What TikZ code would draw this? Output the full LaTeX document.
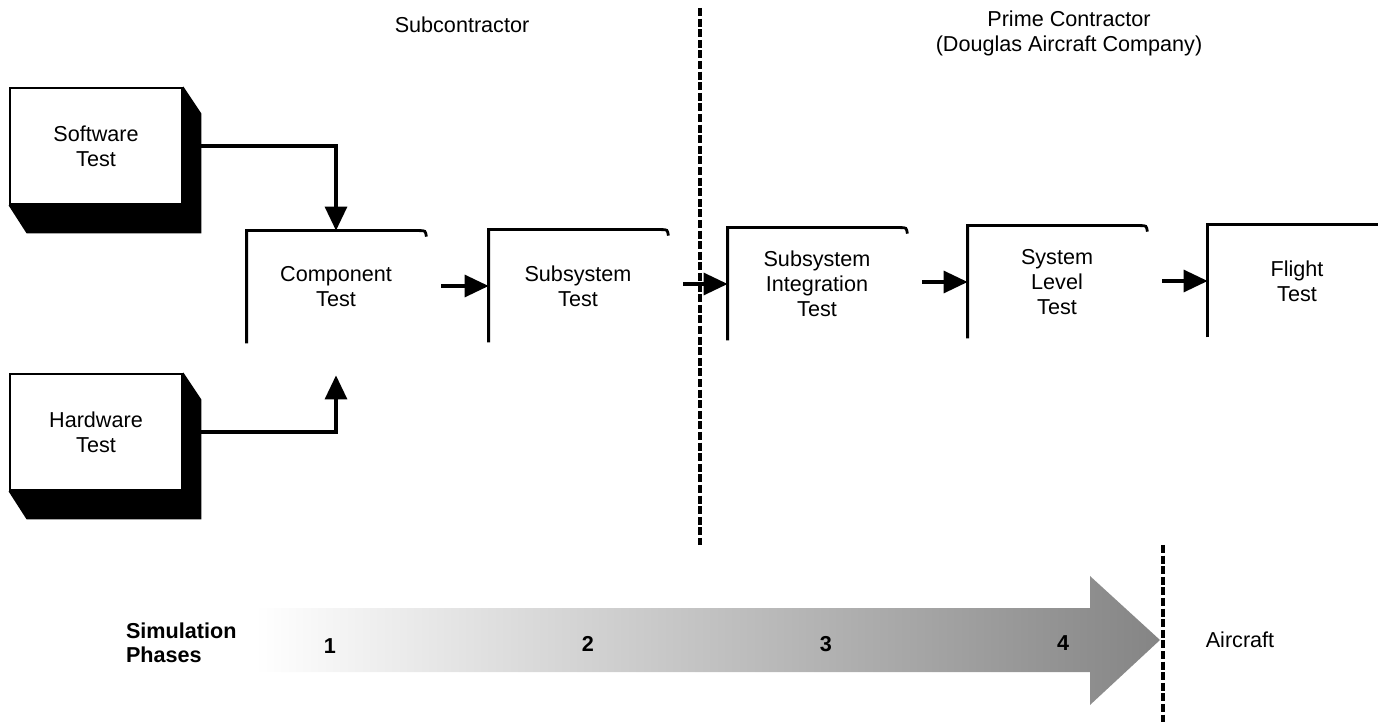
\documentclass[tikz,border=0pt]{standalone}
\usepackage{fontspec}
\setmainfont{Liberation Sans}
\usetikzlibrary{arrows.meta,backgrounds}

\begin{document}
\begin{tikzpicture}[x=0.5pt,y=-0.5pt,
    every node/.style={font=\fontsize{10.8}{12.5}\selectfont, align=center},
    block/.style={draw, fill=white, line width=1.4pt, minimum width=86pt,
                  minimum height=58pt, inner sep=0pt},
    stage/.style={minimum width=89pt, minimum height=56pt, inner sep=0pt},
    edge/.style={line width=1.4pt},
    flow/.style={line width=1.6pt, -{Triangle[length=12pt,width=11pt]}},
    border/.style={dash pattern=on 4pt off 1.3pt, line width=1.8pt},
    bold/.style={font=\fontsize{10.8}{12}\selectfont\bfseries}]
    \useasboundingbox (0,0) rectangle (1378,727);

    % Place the headers
    \node (sub-hdr) at (462,25) {Subcontractor};
    \node (prime-hdr) at (1069,33) {Prime Contractor\\(Douglas Aircraft Company)};

    % Place the test blocks
    \node[block] (soft) at (96,146) {Software\\Test};
    \node[block] (hard) at (96,432) {Hardware\\Test};

    % Place the stages
    \node[stage] (comp) at (336,287) {Component\\Test};
    \node[stage] (subsys) at (578,286) {Subsystem\\Test};
    \node[stage] (integ) at (817,284) {Subsystem\\Integration\\Test};
    \node[stage] (syslev) at (1057,282) {System\\Level\\Test};
    \node[stage] (flight) at (1297,281) {Flight\\Test};

    % Shadows of the blocks
    \begin{scope}[on background layer]
        \foreach \n in {soft,hard} {
            \fill (\n.north east) -- ([shift={(18,27)}]\n.north east)
                -- ([shift={(18,28)}]\n.south east)
                -- ([shift={(18,28)}]\n.south west) -- (\n.south west) -- cycle;
        }
    \end{scope}

    % Open edges of the stages
    \foreach \n in {comp,subsys,integ,syslev} {
        \draw[edge] (\n.south west) -- (\n.north west)
            -- ([shift={(-6,0)}]\n.north east)
            .. controls (\n.north east) .. ([shift={(1,6)}]\n.north east);
    }
    \draw[edge] (flight.south west) -- (flight.north west) -- (flight.north east);

    % The arrows!
    \draw[flow] ([xshift=9pt]soft.east) -| (comp.north);
    \draw[flow] ([xshift=9pt]hard.east) -| ([yshift=-16pt]comp.south);
    \draw[flow] ([xshift=8pt]comp.east |- subsys.west) -- (subsys.west);
    \draw[flow] ([xshift=8pt]subsys.east |- integ.west) -- (integ.west);
    \draw[flow] ([xshift=8pt]integ.east |- syslev.west) -- (syslev.west);
    \draw[flow] ([xshift=8pt]syslev.east |- flight.west) -- (flight.west);

    % Dividing lines
    \coordinate (div1-top) at (700,8);
    \coordinate (div1-bot) at (700,545);
    \coordinate (div2-top) at (1163,545);
    \coordinate (div2-bot) at (1163,722);
    \draw[border] (div1-top) -- (div1-bot);
    \draw[border] (div2-top) -- (div2-bot);

    % Simulation phases
    \shade[left color=white, middle color=black!7, right color=black!48]
        (255,608) -- (1090,608) -- (1090,576) -- (1160,640)
        -- (1090,705) -- (1090,672) -- (255,672) -- cycle;
    \node[bold, anchor=west, align=left] (sim) at (119,643) {Simulation\\Phases};
    \node[bold] (ph1) at (330,646) {1};
    \node[bold] (ph2) at (588,644) {2};
    \node[bold] (ph3) at (826,644) {3};
    \node[bold] (ph4) at (1063,643) {4};
    \node (air) at (1240,640) {Aircraft};
\end{tikzpicture}
\end{document}
